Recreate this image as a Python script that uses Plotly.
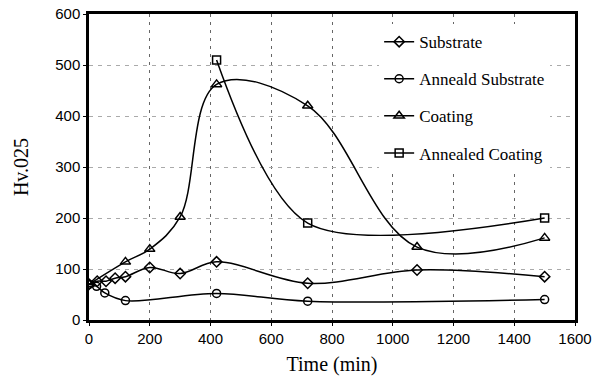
import plotly.graph_objects as go

# Data
sub_x = [0, 27, 56, 86, 120, 200, 300, 420, 720, 1080, 1500]
sub_y = [70, 76, 76, 82, 85, 103, 91, 114, 72, 98, 85]

ann_sub_x = [0, 25, 52, 120, 420, 720, 1500]
ann_sub_y = [70, 66, 53, 38, 52, 37, 40]

coat_x = [0, 120, 200, 300, 420, 720, 1080, 1500]
coat_y = [70, 114, 139, 202, 462, 420, 143, 161]

ann_coat_x = [420, 720, 1500]
ann_coat_y = [510, 190, 200]

names = ["Substrate", "Anneald Substrate", "Coating", "Annealed Coating"]
xticks = [0, 200, 400, 600, 800, 1000, 1200, 1400, 1600]
yticks = [0, 100, 200, 300, 400, 500, 600]

series = [
    (sub_x, sub_y, "diamond-open", 8, 1.0),
    (ann_sub_x, ann_sub_y, "circle-open", 8, 1.0),
    (coat_x, coat_y, "triangle-up-open", 9, 1.05),
    (ann_coat_x, ann_coat_y, "square-open", 8, 0.85),
]

fig = go.Figure()
for i, (xs, ys, sym, sz, sm) in enumerate(series):
    fig.add_trace(go.Scatter(
        x=xs, y=ys, name=names[i], mode="lines+markers",
        legendgroup=names[i],
        line=dict(color="black", width=1.5, shape="spline", smoothing=sm),
        marker=dict(symbol=sym, size=sz, color="black", line=dict(width=1.5, color="black")),
    ))

tick_font = dict(family="Liberation Sans Narrow, Arial Narrow, Liberation Sans, Arial", size=15, color="black")
title_font = dict(family="Liberation Serif, Times New Roman, serif", size=20, color="black")

fig.update_layout(
    width=603, height=380,
    margin=dict(l=89, r=28, t=14, b=60),
    paper_bgcolor="white", plot_bgcolor="white",
    showlegend=True,
    legend=dict(
        x=0.597, y=0.967, xanchor="left", yanchor="top",
        bgcolor="white", borderwidth=0,
        font=dict(family="Liberation Serif, Times New Roman, serif", size=17, color="black"),
        tracegroupgap=12, traceorder="grouped",
        itemwidth=30,
    ),
    xaxis=dict(
        range=[0, 1600], tickvals=xticks, ticktext=[str(v) for v in xticks],
        showgrid=True, gridcolor="#666666", griddash="3px,5px", gridwidth=1,
        showline=True, linecolor="black", linewidth=2.5, mirror=True,
        ticks="outside", ticklen=3, tickcolor="black",
        tickfont=tick_font, zeroline=False, automargin=False,
        title=dict(text="Time (min)", font=title_font, standoff=12),
    ),
    yaxis=dict(
        range=[0, 600], tickvals=yticks, ticktext=[str(v) for v in yticks],
        showgrid=True, gridcolor="#aaaaaa", griddash="4px,5px", gridwidth=1,
        showline=True, linecolor="black", linewidth=2.5, mirror=True,
        ticks="outside", ticklen=3, tickcolor="black",
        tickfont=tick_font, zeroline=False, automargin=False,
        title=dict(text="Hv.025", font=title_font, standoff=22),
    ),
)

fig.write_html("out.html")
